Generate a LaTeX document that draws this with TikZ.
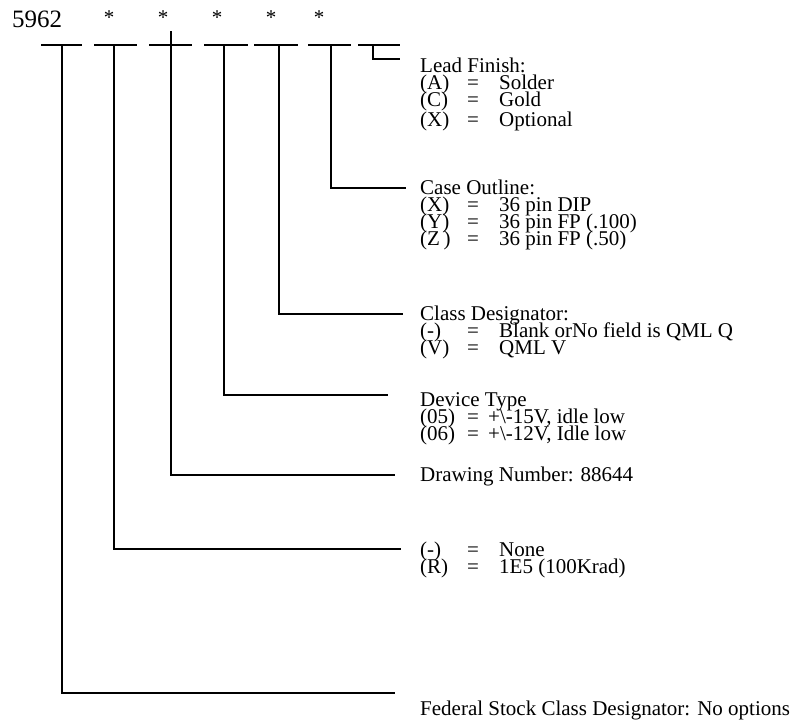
\documentclass[tikz,border=0pt]{standalone}
\usepackage{fontspec}
\setmainfont{Liberation Serif}
\newcommand\rowA[3]{\hbox{\makebox[47pt][l]{#1}\makebox[#3][l]{=}#2}}
\newcommand\grp[1]{\vtop{\baselineskip=17pt\lineskiplimit=-100pt\lineskip=0pt #1}}
\begin{document}
\begin{tikzpicture}[x=1pt,y=-1pt,
  ln/.style={line width=1.5pt, line cap=butt},
  lbl/.style={anchor=base west, inner sep=0pt, font=\fontsize{21}{17}\selectfont},
  star/.style={anchor=base, inner sep=0pt, font=\fontsize{21}{21}\selectfont}]
\useasboundingbox (0,0) rectangle (794,726);
% header
\node[anchor=base west, inner sep=0pt, font=\fontsize{25}{25}\selectfont] (code) at (12,27) {5962};
\node[star] (s1) at (109,24.5) {*};
\node[star] (s2) at (163,24.5) {*};
\node[star] (s3) at (217,24.5) {*};
\node[star] (s4) at (271,24.5) {*};
\node[star] (s5) at (319,24.5) {*};
% field segments
\foreach \a/\b [count=\i] in {41/82,94/137,149/192,204/248,254/298,308/351,358/400}{
  \coordinate (L\i) at (\a,45);
  \coordinate (R\i) at (\b,45);
  \draw[ln] (L\i) -- (R\i);
}
% labels
\node[lbl] (lead) at (420,72) {\grp{\hbox{Lead Finish:}\rowA{(A)}{Solder}{32pt}\rowA{(C)}{Gold}{32pt}\vskip3pt\rowA{(X)}{Optional}{32pt}}};
\node[lbl] (case) at (420,194) {\grp{\hbox{Case Outline:}\rowA{(X)}{36 pin DIP}{32pt}\rowA{(Y)}{36 pin FP (.100)}{32pt}\rowA{(Z\,)}{36 pin FP (.50)}{32pt}}};
\node[lbl] (cls) at (420,320) {\grp{\hbox{Class Designator:}\rowA{(-)}{Blank orNo field is QML Q}{32pt}\rowA{(V)}{QML V}{32pt}}};
\node[lbl] (dev) at (420,406.5) {\grp{\hbox{Device Type}\rowA{(05)}{+\textbackslash-15V, idle low}{21pt}\rowA{(06)}{+\textbackslash-12V, Idle low}{21pt}}};
\node[lbl] (drw) at (420,481) {Drawing Number: 88644};
\node[lbl] (rad) at (420,556) {\grp{\rowA{(-)}{None}{32pt}\rowA{(R)}{1E5 (100Krad)}{32pt}}};
\node[lbl] (fed) at (420,715) {Federal Stock Class Designator: No options};
% connectors
\coordinate (t1) at (62,45);  \coordinate (e1) at (395,693);
\coordinate (t2) at (114,45); \coordinate (e2) at (401,549);
\coordinate (t3) at (171,31); \coordinate (e3) at (395,475);
\coordinate (t4) at (224,45); \coordinate (e4) at (388,395);
\coordinate (t5) at (279,45); \coordinate (e5) at (403,314);
\coordinate (t6) at (331,45); \coordinate (e6) at (406,188);
\coordinate (t7) at (373,45); \coordinate (e7) at (400,59);
\foreach \i in {1,...,7}{\draw[ln] (t\i) |- (e\i);}
\end{tikzpicture}
\end{document}
